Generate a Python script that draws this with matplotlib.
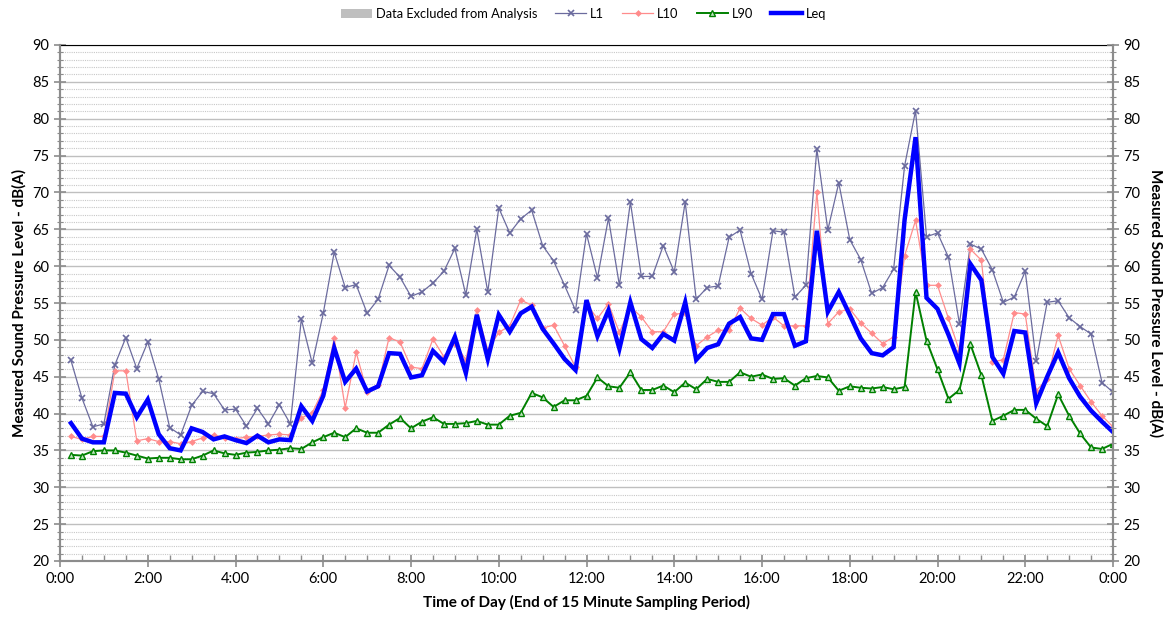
import matplotlib
matplotlib.use("Agg")
import matplotlib.pyplot as plt
from matplotlib.ticker import MultipleLocator, FixedLocator
from matplotlib.patches import Patch
from matplotlib.lines import Line2D
import numpy as np

plt.rcParams['font.family'] = ['Lato', 'DejaVu Sans']

# 15-minute periods (end of period), hours 0.25 .. 24.0
periods = [i * 0.25 for i in range(1, 97)]

L1 = [47.2, 42.1, 38.2, 38.6, 46.6, 50.3, 46.1, 49.7, 44.7, 38.1, 37.1, 41.1,
      43.0, 42.7, 40.5, 40.6, 38.3, 40.7, 38.6, 41.2, 38.6, 52.8, 46.8, 53.6,
      61.9, 57.1, 57.5, 53.6, 55.5, 60.1, 58.5, 55.9, 56.5, 57.7, 59.3, 62.4,
      56.1, 65.0, 56.5, 67.9, 64.5, 66.4, 67.6, 62.8, 60.7, 57.4, 54.0, 64.4,
      58.4, 66.5, 57.4, 68.7, 58.6, 58.6, 62.8, 59.2, 68.7, 55.5, 57.1, 57.3,
      63.9, 64.9, 59.0, 55.5, 64.8, 64.6, 55.8, 57.4, 75.9, 64.9, 71.3, 63.6,
      60.9, 56.3, 57.1, 59.6, 73.6, 81.1, 64.0, 64.5, 61.2, 52.2, 63.0, 62.3,
      59.5, 55.1, 55.8, 59.3, 47.1, 55.1, 55.3, 53.0, 51.8, 50.8, 44.2, 42.9]

L10 = [36.9, 36.5, 36.9, 36.9, 45.8, 45.8, 36.3, 36.6, 36.2, 36.2, 35.9, 36.2,
       36.7, 37.1, 36.7, 36.6, 36.8, 36.9, 37.1, 37.2, 37.1, 39.4, 40.1, 43.2,
       50.2, 40.8, 48.3, 42.9, 43.9, 50.3, 49.7, 46.3, 46.1, 50.1, 47.7, 49.5,
       47.3, 54.0, 48.6, 51.0, 51.9, 55.4, 54.7, 51.6, 52.0, 49.2, 46.3, 54.8,
       52.9, 54.9, 51.0, 54.5, 53.1, 51.1, 51.1, 53.5, 53.6, 49.2, 50.4, 51.3,
       51.3, 54.3, 52.9, 52.0, 53.1, 51.9, 51.9, 51.9, 70.0, 52.2, 53.8, 54.2,
       52.3, 50.9, 49.5, 50.4, 61.4, 66.2, 57.4, 57.4, 52.9, 48.5, 62.3, 60.8,
       47.0, 47.3, 53.7, 53.5, 43.1, 44.7, 50.6, 46.1, 43.8, 41.6, 39.7, 38.2]

L90 = [34.4, 34.3, 34.9, 35.0, 35.0, 34.7, 34.3, 33.9, 34.0, 34.0, 33.8, 33.8,
       34.3, 35.0, 34.6, 34.4, 34.7, 34.8, 35.0, 35.1, 35.3, 35.2, 36.1, 36.8,
       37.4, 36.8, 38.0, 37.4, 37.4, 38.5, 39.4, 38.0, 38.9, 39.5, 38.6, 38.6,
       38.7, 39.0, 38.5, 38.5, 39.7, 40.1, 42.8, 42.2, 40.9, 41.8, 41.8, 42.4,
       44.9, 43.7, 43.5, 45.6, 43.2, 43.2, 43.8, 42.9, 44.2, 43.3, 44.7, 44.3,
       44.3, 45.6, 45.0, 45.3, 44.7, 44.8, 43.8, 44.8, 45.1, 44.9, 43.1, 43.7,
       43.5, 43.4, 43.6, 43.3, 43.6, 56.5, 49.9, 46.0, 42.0, 43.2, 49.4, 45.2,
       39.0, 39.7, 40.5, 40.5, 39.3, 38.3, 42.6, 39.7, 37.3, 35.4, 35.2, 35.9]

Leq = [38.7, 36.6, 36.1, 36.1, 42.8, 42.7, 39.5, 41.9, 37.2, 35.3, 35.0, 38.0,
       37.5, 36.5, 36.9, 36.4, 36.0, 37.0, 36.1, 36.5, 36.4, 41.0, 39.0, 42.4,
       48.9, 44.3, 46.1, 43.0, 43.7, 48.2, 48.1, 44.9, 45.2, 48.5, 47.0, 50.4,
       45.5, 53.4, 47.4, 53.4, 51.1, 53.6, 54.5, 51.5, 49.5, 47.4, 45.9, 55.4,
       50.5, 54.0, 48.8, 55.1, 50.1, 48.9, 50.8, 49.9, 55.1, 47.3, 48.9, 49.4,
       52.2, 53.1, 50.2, 50.0, 53.5, 53.5, 49.2, 49.8, 64.8, 53.8, 56.5, 53.4,
       50.2, 48.2, 47.9, 49.0, 66.3, 77.5, 55.7, 54.2, 50.7, 46.8, 60.3, 58.1,
       47.7, 45.4, 51.2, 51.0, 41.4, 45.0, 48.3, 44.8, 42.3, 40.4, 38.9, 37.5]

tick_hours = list(range(0, 25, 2))
tick_labels = [f"{h % 24}:00" for h in tick_hours]

fig = plt.figure(figsize=(11.67, 6.18), dpi=100)
ax = fig.add_axes([60/1167, 1 - 561/618, (1113-60)/1167, (561-45)/618])

c_l1 = '#6B6B9E'
c_l10 = '#FF8C8C'
c_l90 = '#008000'
c_leq = '#0000FF'

ax.plot(periods, L1, color=c_l1, lw=0.9, marker='x', ms=4.5, mew=1.2, zorder=3)
ax.plot(periods, L10, color=c_l10, lw=0.9, marker='D', ms=3.5, mew=0, zorder=3)
ax.plot(periods, L90, color=c_l90, lw=1.4, marker='^', ms=4.5, mew=1.0,
        mfc='#BFE3BF', mec=c_l90, zorder=3)
ax.plot(periods, Leq, color=c_leq, lw=3.2, zorder=4, solid_joinstyle='miter')

ax.set_xlim(0, 24)
ax.set_ylim(20, 90)
ax.yaxis.set_major_locator(MultipleLocator(5))
ax.yaxis.set_minor_locator(MultipleLocator(1))
ax.xaxis.set_major_locator(FixedLocator(tick_hours))
ax.xaxis.set_minor_locator(MultipleLocator(0.5))
ax.set_xticklabels(tick_labels)

ax.grid(which='major', axis='y', color='#BFBFBF', lw=1.0, zorder=0)
ax.grid(which='minor', axis='y', color='#C8C8C8', lw=0.8, ls=(0, (1, 1)), zorder=0)
ax.set_axisbelow(True)

spine_col = '#8C8C8C'
for s in ['left', 'right', 'bottom']:
    ax.spines[s].set_color(spine_col)
    ax.spines[s].set_linewidth(1.5)
ax.spines['top'].set_color('black')
ax.spines['top'].set_linewidth(0.8)

ax.tick_params(axis='x', which='major', direction='inout', length=8, width=1.2,
               color=spine_col, labelsize=10.5, pad=4)
ax.tick_params(axis='x', which='minor', direction='in', length=4, width=1.0, color=spine_col)
ax.tick_params(axis='y', which='major', direction='inout', length=8, width=1.2,
               color=spine_col, labelsize=10.5)
ax.tick_params(axis='y', which='minor', direction='inout', length=4, width=0.8, color=spine_col)

ax2 = ax.twinx()
ax2.set_ylim(20, 90)
ax2.yaxis.set_major_locator(MultipleLocator(5))
ax2.yaxis.set_minor_locator(MultipleLocator(1))
ax2.tick_params(axis='y', which='major', direction='inout', length=8, width=1.2,
                color=spine_col, labelsize=10.5)
ax2.tick_params(axis='y', which='minor', direction='inout', length=4, width=0.8, color=spine_col)
for s in ['left', 'right', 'bottom']:
    ax2.spines[s].set_color(spine_col)
    ax2.spines[s].set_linewidth(1.5)
ax2.spines['top'].set_visible(False)

ax.set_xlabel('Time of Day (End of 15 Minute Sampling Period)', fontsize=11,
              fontweight='bold', labelpad=6)
ax.set_ylabel('Measured Sound Pressure Level - dB(A)', fontsize=11,
              fontweight='bold', labelpad=4)
ax2.set_ylabel('Measured Sound Pressure Level - dB(A)', fontsize=11,
               fontweight='bold', rotation=-90, labelpad=16)

handles = [
    Patch(facecolor='#BFBFBF', edgecolor='none'),
    Line2D([], [], color=c_l1, lw=0.9, marker='x', ms=4.5, mew=1.2),
    Line2D([], [], color=c_l10, lw=0.9, marker='D', ms=3.5, mew=0),
    Line2D([], [], color=c_l90, lw=1.4, marker='^', ms=4.5, mfc='#BFE3BF', mec=c_l90),
    Line2D([], [], color=c_leq, lw=3.2),
]
labels = ['Data Excluded from Analysis', 'L1', 'L10', 'L90', 'Leq']
fig.legend(handles, labels, loc='center', bbox_to_anchor=(0.5, 1 - 14/618),
           ncol=5, frameon=False, fontsize=9.3, handlelength=2.4, handleheight=0.7,
           columnspacing=1.4, handletextpad=0.3)

fig.savefig('out.png', dpi=100)
